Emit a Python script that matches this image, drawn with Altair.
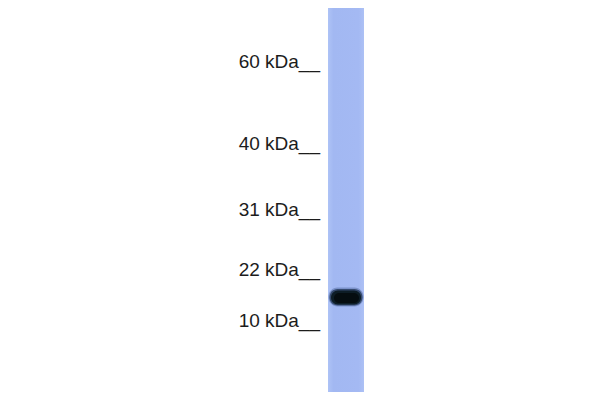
import altair as alt
import pandas as pd

# Molecular-weight markers (label, migration position read from the blot)
marker_labels = ["60 kDa", "40 kDa", "31 kDa", "22 kDa", "10 kDa"]
marker_migration = [67.5, 150.0, 216.0, 275.5, 327.0]

# Lane extent (migration) and detected band
lane_top = [7.0]
lane_bottom = [392.0]
band_migration = [297.0]

FONT = "Liberation Sans, Arial, Helvetica, sans-serif"
OFF = 8  # page margin

yscale = alt.Scale(domain=[8, 392], reverse=True, nice=False, zero=False)

markers = pd.DataFrame({
    "label": [l + "__" for l in marker_labels],
    "mig": marker_migration,
})
lane = pd.DataFrame({"top": lane_top, "bottom": lane_bottom})
band = pd.DataFrame({"mig": band_migration})

text = alt.Chart(markers).mark_text(
    align="right", baseline="alphabetic", font=FONT, fontSize=19, color="#1c1c1c"
).encode(
    x=alt.value(320 - OFF),
    y=alt.Y("mig:Q", scale=yscale, axis=None),
    text="label:N",
)

lane_rect = alt.Chart(lane).mark_rect(
    color=alt.Gradient(
        gradient="linear", x1=0, x2=1, y1=0, y2=0,
        stops=[
            alt.GradientStop(color="#aec3f6", offset=0),
            alt.GradientStop(color="#a2b8f2", offset=0.15),
            alt.GradientStop(color="#a4b9f3", offset=0.85),
            alt.GradientStop(color="#adc1f5", offset=1),
        ],
    )
).encode(
    x=alt.value(328 - OFF),
    x2=alt.value(364 - OFF),
    y=alt.Y("top:Q", scale=yscale, axis=None),
    y2="bottom:Q",
)

def band_layer(x1, x2, up, down, radius, color, opacity):
    return alt.Chart(band).transform_calculate(
        t=f"datum.mig - {up}", b=f"datum.mig + {down}"
    ).mark_rect(cornerRadius=radius, color=color, opacity=opacity).encode(
        x=alt.value(x1 - OFF),
        x2=alt.value(x2 - OFF),
        y=alt.Y("t:Q", scale=yscale, axis=None),
        y2="b:Q",
    )

band_layers = [
    band_layer(328.5, 363.5, 9.5, 9.5, 9, "#4a6296", 0.45),
    band_layer(329.5, 362.5, 8, 8.5, 8, "#1f3350", 0.75),
    band_layer(331, 361, 6.5, 7.5, 7, "#0c1a22", 0.95),
    band_layer(334, 359, 4, 6, 5, "#050d10", 1.0),
]

chart = alt.layer(lane_rect, *band_layers, text).properties(
    width=584,
    height=384,
    padding=0,
    autosize=alt.AutoSizeParams(type="none"),
    background="white",
).configure_view(stroke=None)

chart.save("out.html", embed_options={"renderer": "svg", "actions": False})
